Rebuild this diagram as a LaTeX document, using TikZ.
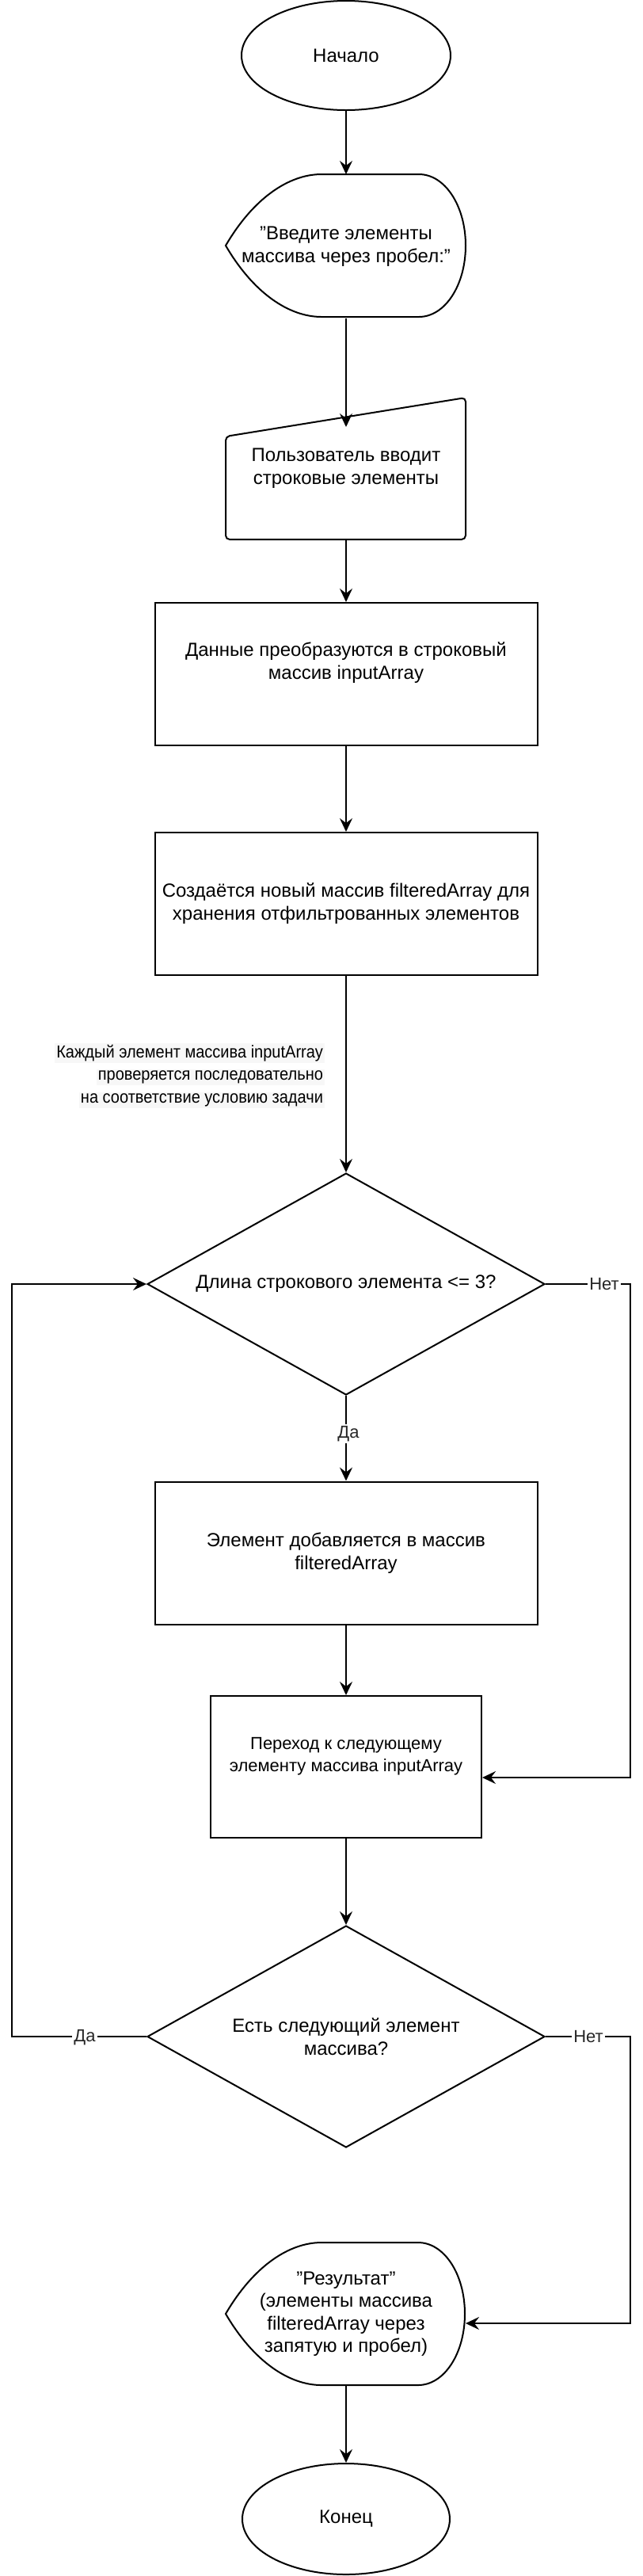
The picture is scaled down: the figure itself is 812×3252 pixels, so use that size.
\documentclass[tikz,border=0pt]{standalone}
\usepackage{fontspec}
\setmainfont{Liberation Sans}
\newfontfamily\notefont[FakeStretch=0.91]{Liberation Sans}
\usetikzlibrary{shapes.geometric,arrows.meta,calc}
\newcommand\notehl[1]{{\setlength{\fboxsep}{1pt}\colorbox{black!3}{#1}}}
\begin{document}
\begin{tikzpicture}[x=0.5pt,y=-0.5pt,
  line width=1pt,
  arr/.style={-{Stealth[length=8.5pt,width=8pt,inset=3pt]}},
  txt/.style={align=center,font=\fontsize{12}{14.5}\selectfont,inner sep=0pt},
  smalltxt/.style={align=center,font=\fontsize{11}{14}\selectfont,inner sep=0pt},
  shapebox/.style={inner sep=0pt,minimum width=151.5pt,minimum height=90pt},
  procbox/.style={draw,rectangle,minimum width=241.5pt,minimum height=90pt,inner sep=0pt},
  decbox/.style={draw,diamond,minimum width=251pt,minimum height=140pt,inner sep=0pt},
  termbox/.style={draw,ellipse,minimum width=132pt,minimum height=69pt,inner sep=0pt},
  lbl/.style={fill=white,inner sep=1pt,font=\fontsize{11}{13}\selectfont,text=black!85}]
\fill[white] (0,0) rectangle (812,3252);
\useasboundingbox (0,0) rectangle (812,3252);

% terminals
\node[termbox,txt] (start) at (437,70) {Начало};

% display 1
\node[shapebox,txt] (disp1) at (437,311) {"Введите элементы\\массива через пробел:"};
\draw (285,310) .. controls (320,250) and (365,220) .. (406,220) -- (529,220)
  .. controls (562,220) and (588,260) .. (588,310)
  .. controls (588,360) and (562,400) .. (529,400) -- (406,400)
  .. controls (365,400) and (320,370) .. (285,310) -- cycle;

% manual input
\draw[rounded corners=2.5pt] (285,551) -- (588,502) -- (588,681) -- (285,681) -- cycle;
\node[shapebox,minimum height=89.5pt,txt] (inp) at (437,591.5) {Пользователь вводит\\строковые элементы};
\coordinate (inpTop) at (437,539);

% process boxes
\node[procbox] (conv) at (437,851) {};
\node[txt] (convT) at (437,836.5) {Данные преобразуются в строковый\\массив inputArray};

\node[procbox,txt] (newarr) at (437,1141) {Создаётся новый массив filteredArray для\\хранения отфильтрованных элементов};

\node[decbox] (d1) at (437,1621) {};
\node[txt] (d1T) at (437,1621) {Длина строкового элемента <= 3?};

\node[procbox,txt] (add) at (437,1960.5) {Элемент добавляется в массив\\filteredArray};

\node[draw,rectangle,minimum width=171pt,minimum height=89.5pt,inner sep=0pt] (next) at (437,2230.5) {};
\node[smalltxt] (nextT) at (437,2217) {Переход к следующему\\элементу массива inputArray};
\coordinate (nextIn) at ($(next.east)+(0,13.5)$);

\node[decbox] (d2) at (437,2571) {};
\node[txt] (d2T) at (437,2571) {Есть следующий элемент\\массива?};

% display result
\node[shapebox,align=center,font=\fontsize{12}{14.25}\selectfont] (res) at (437,2921) {"Результат"\\(элементы массива\\filteredArray через\\запятую и пробел)};
\draw (285,2921) .. controls (320,2861) and (365,2831) .. (406,2831) -- (528,2831)
  .. controls (561,2831) and (587,2871) .. (587,2921)
  .. controls (587,2971) and (561,3011) .. (528,3011) -- (406,3011)
  .. controls (365,3011) and (320,2981) .. (285,2921) -- cycle;
\coordinate (resIn) at (588,2933);

\node[termbox,minimum width=131pt,minimum height=70pt,txt] (end) at (437,3180) {Конец};

% annotation
\node[anchor=east,align=right,inner sep=0pt,font=\notefont\fontsize{11}{14.25}\selectfont] (note) at (411,1358)
  {\notehl{Каждый элемент массива inputArray}\\\notehl{проверяется последовательно}\\\notehl{на соответствие условию задачи}};

% connectors
\draw[arr] (start.south) -- (disp1.north);
\draw[arr] (disp1.south) -- (inpTop);
\draw[arr] (inp.south) -- (conv.north);
\draw[arr] (conv.south) -- (newarr.north);
\draw[arr] (newarr.south) -- (d1.north);
\draw[arr] (d1.south) -- (add.north);
\draw[arr] (add.south) -- (next.north);
\draw[arr] (next.south) -- (d2.north);
\draw[arr] (d1.east) -- (796,1621) |- (nextIn);
\draw[arr] (d2.west) -- (15,2571) |- (d1.west);
\draw[arr] (d2.east) -- (796,2571) |- (resIn);
\draw[arr] (res.south) -- (end.north);

% labels
\node[lbl] (da1) at (440,1810) {Да};
\node[lbl] (net1) at (763,1621) {Нет};
\node[lbl] (da2) at (107,2572) {Да};
\node[lbl] (net2) at (743,2571) {Нет};
\end{tikzpicture}
\end{document}
